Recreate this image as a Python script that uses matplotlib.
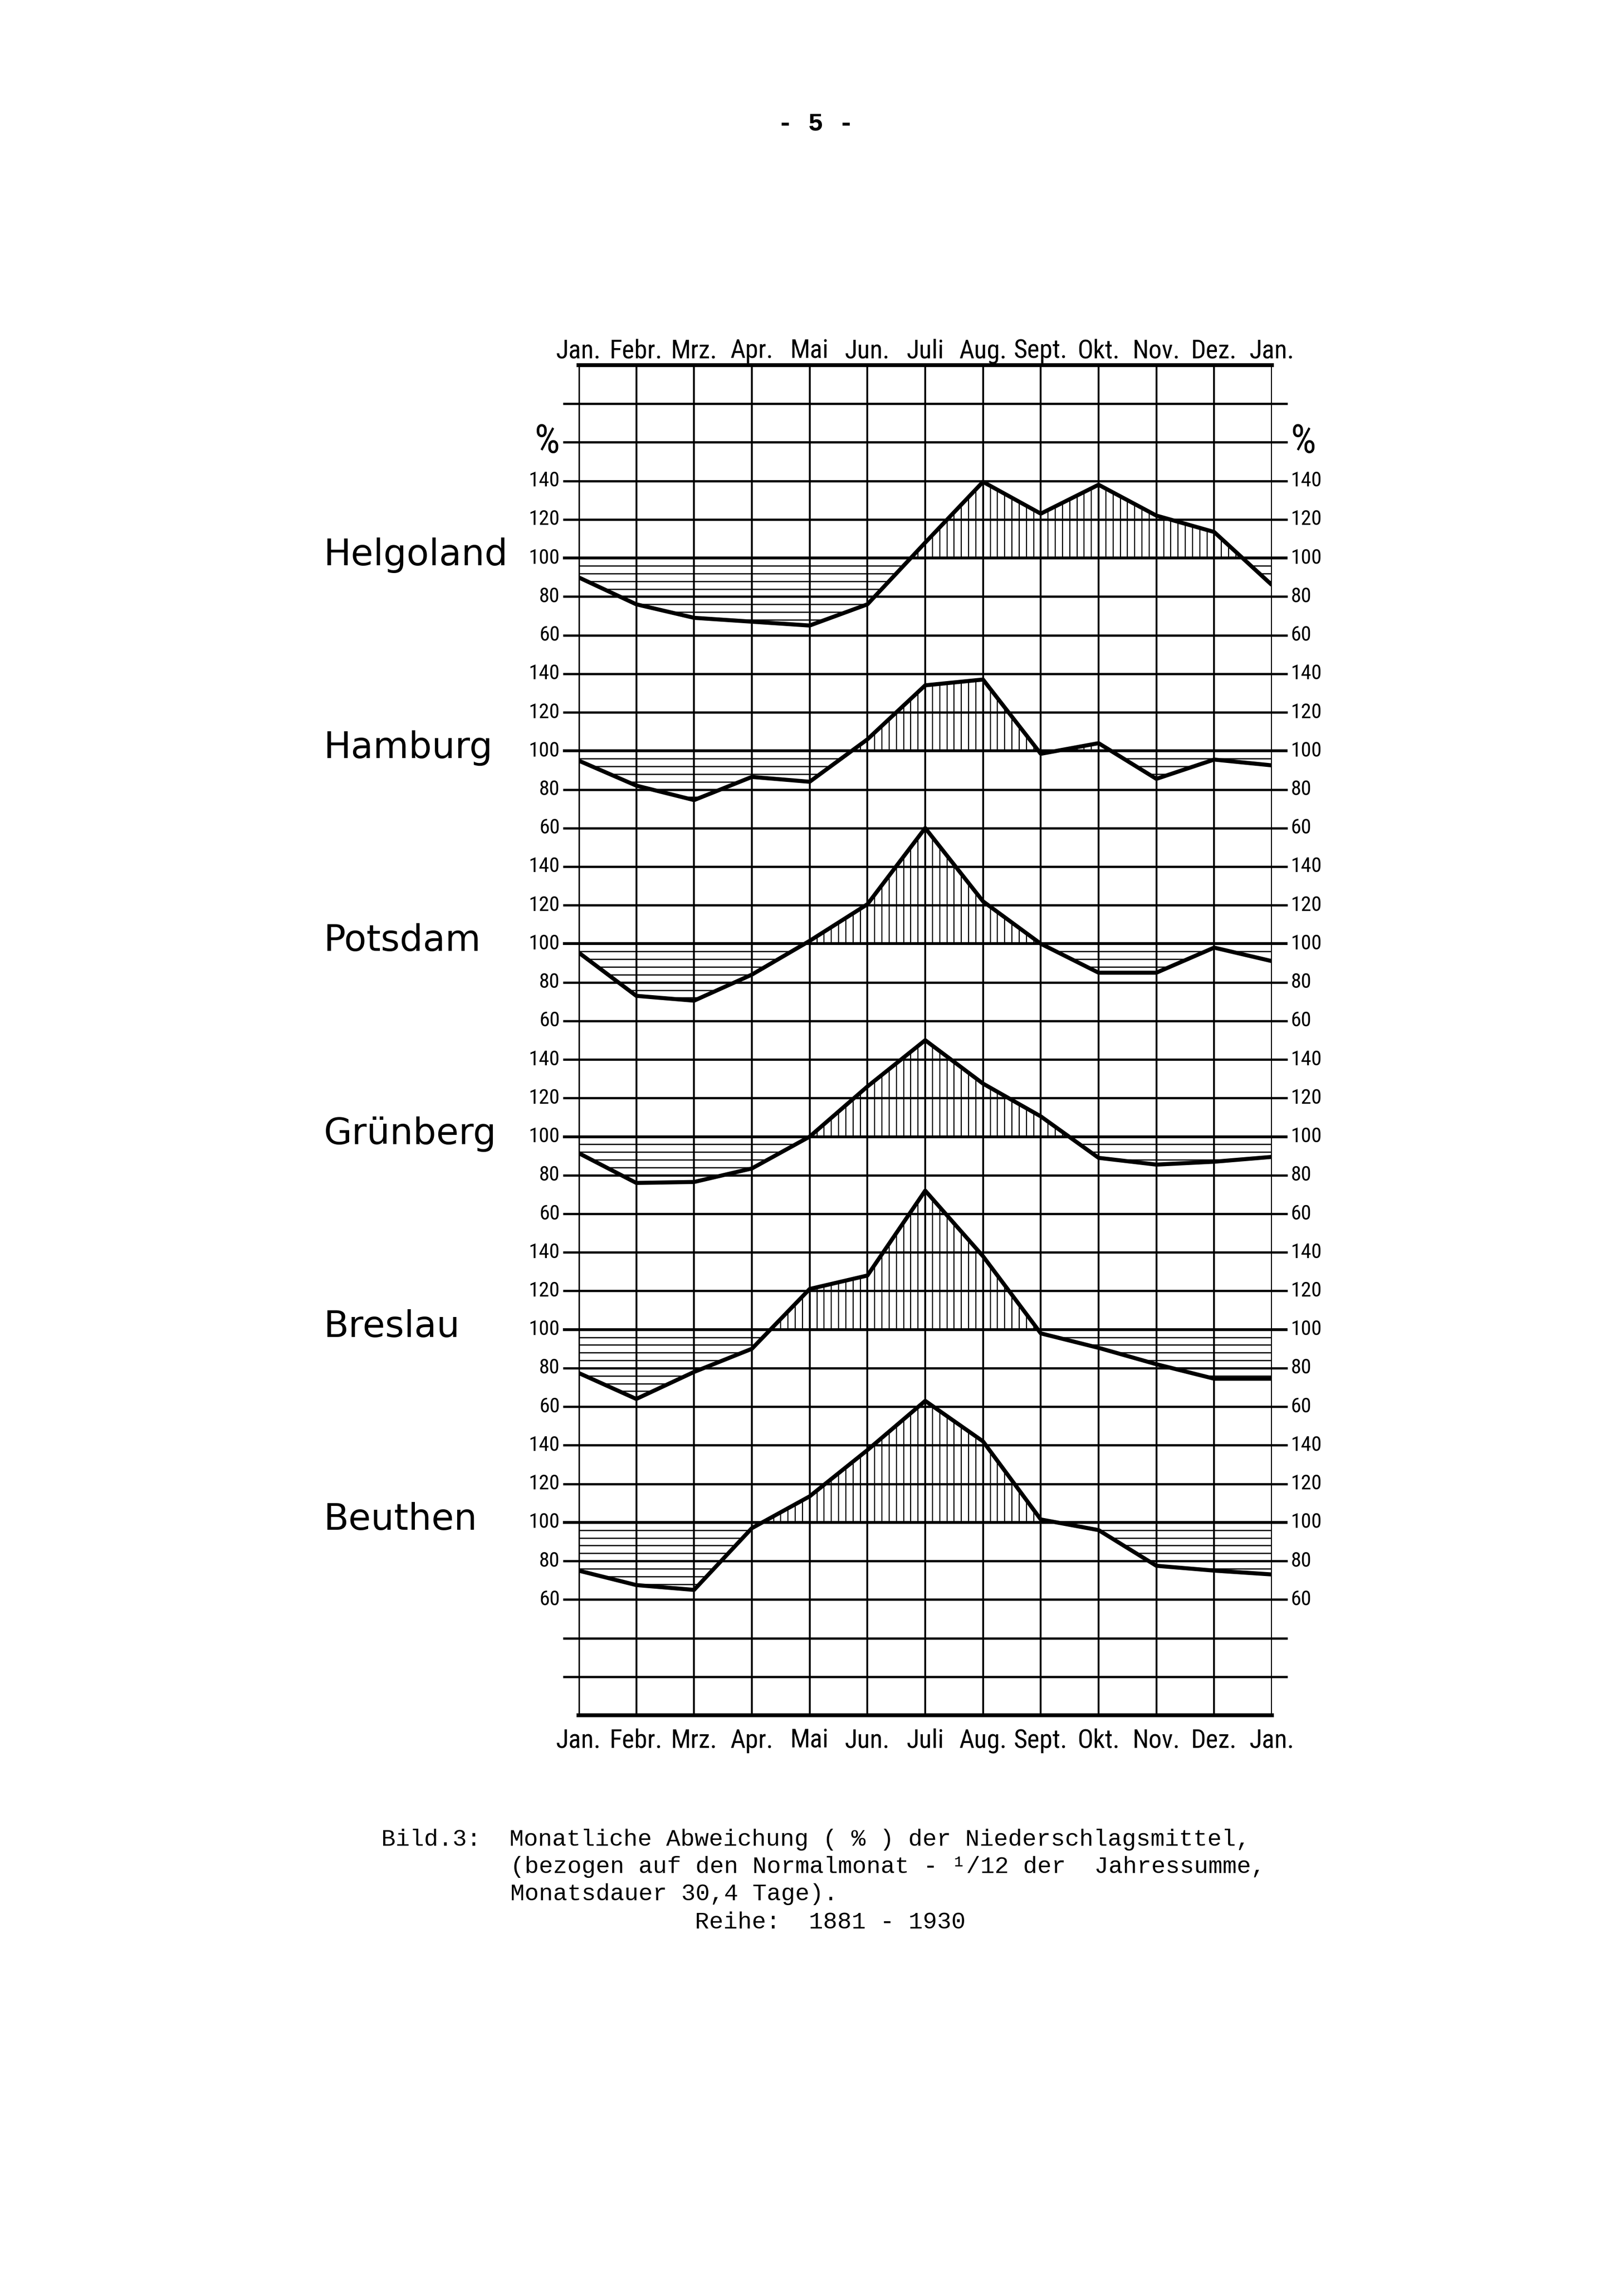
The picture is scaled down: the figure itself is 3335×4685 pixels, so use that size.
import numpy as np
import matplotlib
matplotlib.use("Agg")
import matplotlib.pyplot as plt
from matplotlib import font_manager as fm
from matplotlib.path import Path
import matplotlib.transforms as mtransforms

# ---------------- data ----------------
months = ['Jan.', 'Febr.', 'Mrz.', 'Apr.', 'Mai', 'Jun.', 'Juli', 'Aug.',
          'Sept.', 'Okt.', 'Nov.', 'Dez.', 'Jan.']
stations = ['Helgoland', 'Hamburg', 'Potsdam', 'Grünberg', 'Breslau', 'Beuthen']
helgoland = [90, 76, 69, 67, 65, 76, 108, 139.5, 123, 138, 122, 113.5, 86]
hamburg = [95, 82, 74.5, 86.5, 84, 106, 134, 137, 98.5, 104, 85.5, 95.5, 92.5]
potsdam = [95.5, 73, 70.5, 84, 101.5, 120.5, 160, 122, 100, 85, 85, 98, 91]
gruenberg = [91.5, 76, 76.5, 83.5, 100, 126, 150, 127.5, 110.5, 89, 85.5, 87, 89.5]
breslau = [77.5, 64, 78, 90, 121, 128, 172, 138, 98, 90.5, 82, 74.5, 74.5]
beuthen = [75, 67.5, 65, 97, 113.5, 137.5, 163, 142, 101.5, 96, 77.5, 75, 73]
series = [helgoland, hamburg, potsdam, gruenberg, breslau, beuthen]
scale_ticks = [60, 80, 100, 120, 140]
normal = 100          # 100 % = Normalmonat
strip_offset = 100    # vertical shift between the station strips

caption = ["Bild.3:  Monatliche Abweichung ( % ) der Niederschlagsmittel,",
           "(bezogen auf den Normalmonat - \u00b9/12 der  Jahressumme,",
           "Monatsdauer 30,4 Tage).",
           "Reihe:  1881 - 1930"]
page_no = "- 5 -"

# ---------------- fonts ----------------
ttf = fm.fontManager.ttflist
names = {f.name for f in ttf}
cond = None
for cand in ['Liberation Sans Narrow', 'Arial Narrow', 'Roboto Condensed',
             'Noto Sans Condensed', 'Open Sans Condensed', 'DejaVu Sans Condensed']:
    if cand in names:
        cond = dict(family=[cand, 'DejaVu Sans'])
        break
if cond is None:
    for fam in ['DejaVu Sans', 'Noto Sans', 'Open Sans', 'Roboto']:
        if any(f.name == fam and str(f.stretch) in ('condensed', 'semi-condensed',
                                                     'extra-condensed', '75', '87.5')
               for f in ttf):
            cond = dict(family=[fam], stretch='condensed')
            break
if cond is None:
    cond = dict(family=['DejaVu Sans'])
    msize, tsize = 8.8, 7.4
else:
    msize, tsize = 13.0, 10.4

mono = ['Liberation Mono', 'DejaVu Sans Mono']

# ---------------- figure ----------------
W, H = 3335, 4685
fig = plt.figure(figsize=(W / 300, H / 300), dpi=300)
fig.patch.set_facecolor('white')
L, R, T, B = 1188, 2612, 750, 3523
ax = fig.add_axes([L / W, 1 - B / H, (R - L) / W, (B - T) / H])
ax.set_xlim(0, 12)
ax.set_ylim(-500, 200)
ax.axis('off')

x = np.arange(len(months))
ext = 0.27
nst = len(stations)

# vertical grid lines
ax.vlines(x[1:-1], -500, 200, color='k', lw=0.9)
ax.vlines([x[0], x[-1]], -500, 200, color='k', lw=1.2)

# horizontal grid lines (extended to form tick dashes)
levels = np.arange(-480, 181, 20)
base_levels = [normal - strip_offset * k for k in range(nst)]
for yv in levels:
    lw = 1.4 if yv in base_levels else 1.1
    ax.plot([-ext, 12 + ext], [yv, yv], color='k', lw=lw, clip_on=False,
            solid_capstyle='butt')
ax.plot([0, 12], [200, 200], color='k', lw=1.9, clip_on=False, solid_capstyle='projecting')
ax.plot([0, 12], [-500, -500], color='k', lw=1.9, clip_on=False, solid_capstyle='projecting')

# tick labels
for k in range(nst):
    for v in scale_ticks:
        yv = v - strip_offset * k
        ax.annotate(str(v), xy=(-ext, yv), xytext=(-1.5, 0), textcoords='offset points',
                    ha='right', va='center', fontsize=tsize, annotation_clip=False, **cond)
        ax.annotate(str(v), xy=(12 + ext, yv), xytext=(1.5, 0), textcoords='offset points',
                    ha='left', va='center', fontsize=tsize, annotation_clip=False, **cond)
ax.annotate('%', xy=(-ext, 160), xytext=(-1.5, 0), textcoords='offset points',
            ha='right', va='center', fontsize=tsize * 1.9, annotation_clip=False, **cond)
ax.annotate('%', xy=(12 + ext, 160), xytext=(1.5, 0), textcoords='offset points',
            ha='left', va='center', fontsize=tsize * 1.9, annotation_clip=False, **cond)

# month labels
for i, m in enumerate(months):
    ax.annotate(m, xy=(x[i], 200), xytext=(0, 3.5), textcoords='offset points',
                ha='center', va='baseline', fontsize=msize, annotation_clip=False, **cond)
    ax.annotate(m, xy=(x[i], -500), xytext=(0, -16), textcoords='offset points',
                ha='center', va='baseline', fontsize=msize, annotation_clip=False, **cond)

# curves with hatching
hx = np.arange(0, 12.0001, 1 / 8)
trans_name = mtransforms.blended_transform_factory(fig.transFigure, ax.transData)
for k, (name, vals) in enumerate(zip(stations, series)):
    off = strip_offset * k
    ys = np.array(vals, dtype=float) - off
    base = normal - off
    below = ax.fill_between(x, ys, base, where=ys <= base, interpolate=True,
                            facecolor='none', edgecolor='none', lw=0)
    above = ax.fill_between(x, ys, base, where=ys >= base, interpolate=True,
                            facecolor='none', edgecolor='none', lw=0)
    pb = [p for p in below.get_paths() if len(p.vertices)]
    pa = [p for p in above.get_paths() if len(p.vertices)]
    if pb:
        lc = ax.hlines(np.arange(base - 4, base - 60, -4), 0, 12, color='k', lw=0.6)
        lc.set_clip_path(Path.make_compound_path(*pb), ax.transData)
    if pa:
        vc = ax.vlines(hx, base, base + 90, color='k', lw=0.55)
        vc.set_clip_path(Path.make_compound_path(*pa), ax.transData)
    ax.plot(x, ys, color='k', lw=2.0, solid_joinstyle='round', solid_capstyle='butt',
            zorder=5)
    ax.annotate(name, xy=(665 / W, base), xycoords=trans_name, xytext=(0, -3.6),
                textcoords='offset points', ha='left', va='baseline', fontsize=18,
                family=['DejaVu Sans'], annotation_clip=False)

# page number and caption
fig.text(1675 / W, 1 - 268 / H, page_no, ha='center', va='baseline', fontsize=12.5,
         family=mono, fontweight='bold')
cap_pos = [(783, 3791), (1048, 3847), (1048, 3903), (1427, 3961)]
for (cx, cy), line in zip(cap_pos, caption):
    fig.text(cx / W, 1 - cy / H, line, ha='left', va='baseline', fontsize=11.7,
             family=mono)

fig.savefig('out.png', dpi=300, facecolor='white')
